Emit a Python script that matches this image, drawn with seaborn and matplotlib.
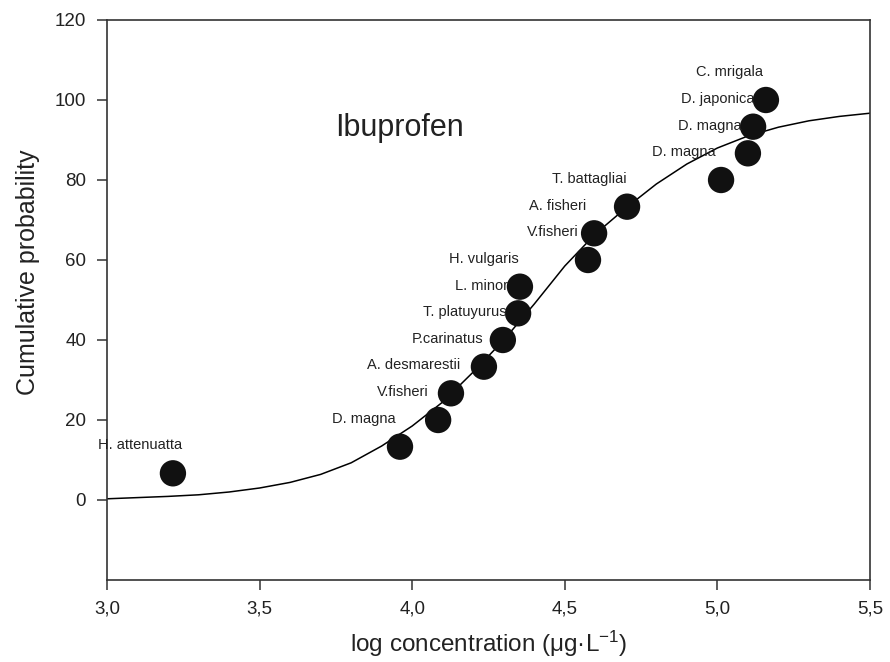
import matplotlib
matplotlib.use("Agg")
import matplotlib.pyplot as plt
import seaborn as sns
import pandas as pd

# Species sensitivity data for ibuprofen (log10 concentration, µg/L)
species = ["H. attenuatta", "D. magna", "V.fisheri", "A. desmarestii", "P.carinatus",
           "T. platuyurus", "L. minor", "H. vulgaris", "V.fisheri", "A. fisheri",
           "T. battagliai", "D. magna", "D. magna", "D. japonica", "C. mrigala"]
log_conc = [3.216, 3.960, 4.085, 4.127, 4.235, 4.297, 4.347, 4.353,
            4.576, 4.596, 4.704, 5.012, 5.100, 5.117, 5.159]
cum_prob = [6.67, 13.33, 20.00, 26.67, 33.33, 40.00, 46.67, 53.33,
            60.00, 66.67, 73.33, 80.00, 86.67, 93.33, 100.00]

# Fitted cumulative distribution curve
curve_x = [3.0, 3.1, 3.2, 3.3, 3.4, 3.5, 3.6, 3.7, 3.8, 3.9, 4.0, 4.1, 4.2,
           4.3, 4.4, 4.5, 4.6, 4.7, 4.8, 4.9, 5.0, 5.1, 5.2, 5.3, 5.4, 5.5]
curve_y = [0.3, 0.6, 0.9, 1.3, 2.0, 3.0, 4.4, 6.4, 9.3, 13.5, 18.5, 24.5, 32.0,
           40.0, 49.0, 58.5, 66.5, 73.0, 79.0, 84.0, 88.0, 91.0, 93.2, 94.8, 95.9, 96.7]

x_ticks = [3.0, 3.5, 4.0, 4.5, 5.0, 5.5]
x_tick_labels = ["3,0", "3,5", "4,0", "4,5", "5,0", "5,5"]
y_ticks = [0, 20, 40, 60, 80, 100, 120]
y_tick_labels = ["0", "20", "40", "60", "80", "100", "120"]

# Where each species name is written (right edge x, centre y)
label_pos = [(3.246, 13.75), (3.947, 20.25), (4.055, 27.0), (4.157, 33.75), (4.232, 40.25),
             (4.311, 47.0), (4.314, 53.5), (4.350, 60.25), (4.547, 67.0), (4.569, 73.5),
             (4.704, 80.25), (4.995, 87.0), (5.081, 93.5), (5.120, 100.25), (5.149, 107.0)]

sns.set_theme(style="white")
plt.rcParams["font.family"] = ["Liberation Sans", "DejaVu Sans"]
plt.rcParams["mathtext.fontset"] = "custom"
plt.rcParams["mathtext.rm"] = "Liberation Sans"
plt.rcParams["mathtext.default"] = "regular"

points = pd.DataFrame({"log_conc": log_conc, "cum_prob": cum_prob, "species": species})
curve = pd.DataFrame({"x": curve_x, "y": curve_y})

fig = plt.figure(figsize=(8.9, 6.62), dpi=100)
ax = fig.add_axes([107 / 890, 1 - 580 / 662, (870 - 107) / 890, (580 - 20) / 662])

sns.lineplot(data=curve, x="x", y="y", ax=ax, color="black", linewidth=1.1, zorder=2)
sns.scatterplot(data=points, x="log_conc", y="cum_prob", ax=ax, s=360,
                color="#111111", edgecolor="none", zorder=3, legend=False)

for name, (lx, ly) in zip(species, label_pos):
    ax.text(lx, ly, name, ha="right", va="center", fontsize=10.5, color="#222222", zorder=4)

ax.text(3.96, 93.0, "Ibuprofen", ha="center", va="center", fontsize=22, color="#222222")

ax.set_xlim(3.0, 5.5)
ax.set_ylim(-20, 120)
ax.set_xticks(x_ticks)
ax.set_xticklabels(x_tick_labels)
ax.set_yticks(y_ticks)
ax.set_yticklabels(y_tick_labels)
ax.tick_params(axis="both", which="major", direction="out", length=7, width=1.1,
               color="#333333", labelsize=13.5, labelcolor="#222222", pad=8,
               bottom=True, left=True, top=False, right=False)

for sp in ax.spines.values():
    sp.set_color("#333333")
    sp.set_linewidth(1.2)

ax.set_xlabel("log concentration (μg·L$^{-1}$)", fontsize=17.5,
              color="#222222", labelpad=8)
ax.set_ylabel("Cumulative probability", fontsize=18, color="#222222", labelpad=8)
ax.yaxis.set_label_coords(-0.088, (580 - 272) / 560)

fig.savefig("out.png", dpi=100)
